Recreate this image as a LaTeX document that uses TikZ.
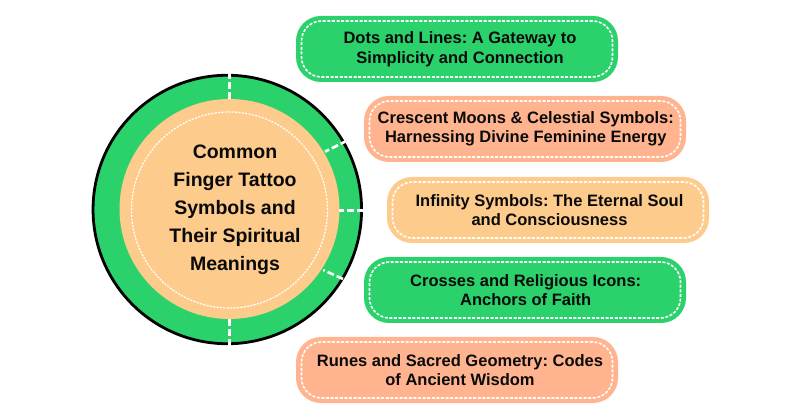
\documentclass[tikz,border=0pt]{standalone}
\usepackage{fontspec}
\setmainfont{Liberation Sans}[BoldFont={Liberation Sans Bold}]
\frenchspacing
\definecolor{gr}{HTML}{2BD26B}
\definecolor{og}{HTML}{FDCB8B}
\definecolor{sm}{HTML}{FFB48F}
\definecolor{ink}{HTML}{0A0A0A}
\newcommand{\pill}[6]{%
  \node[pillbody,fill=#5] (#1) at (#2,#3) {};
  \node[pillstitch] (#1s) at (#1.center) {};
  \node[pilltext] (#1t) at (#4,#3) {#6};
}
\tikzset{
  pillbody/.style={minimum width=322pt,minimum height=66pt,rounded corners=25pt,inner sep=0pt,outer sep=0pt},
  pillstitch/.style={draw=white,line width=1.6pt,dash pattern=on 3pt off 1.6pt,minimum width=311pt,minimum height=56pt,rounded corners=20pt,inner sep=0pt},
  pilltext/.style={text=ink,font=\fontsize{16.5}{19.5}\selectfont\bfseries,align=center,inner sep=0pt},
  tick/.style={draw=white,line width=2.6pt,dash pattern=on 7pt off 3pt},
}
\begin{document}
\begin{tikzpicture}[x=1pt,y=-1pt]
\useasboundingbox[fill=white] (0,0) rectangle (800,419);
\node[circle,draw=black,line width=2.8pt,fill=gr,minimum size=268.5pt,inner sep=0pt] (outer) at (227.3,209.5) {};
\node[circle,fill=og,minimum size=220pt,inner sep=0pt,outer sep=0pt] (inner) at (229.5,209) {};
\node[circle,draw=white,line width=1.2pt,dash pattern=on 2.2pt off 1.2pt,minimum size=196pt,inner sep=0pt] (stitch) at (229.5,210) {};
\node[text=ink,font=\fontsize{19.5}{28}\selectfont\bfseries,align=center,inner sep=0pt] (title) at (235,209.5) {Common\\Finger Tattoo\\Symbols and\\Their Spiritual\\Meanings};
\coordinate (t1a) at (229.5,72); \coordinate (t1b) at (229.5,99);
\coordinate (t2a) at (347,140.7); \coordinate (t2b) at (325,151.7);
\coordinate (t3a) at (364,210.7); \coordinate (t3b) at (339,210.7);
\coordinate (t4a) at (343,279); \coordinate (t4b) at (323.3,270);
\coordinate (t5a) at (229.5,319); \coordinate (t5b) at (229.5,347);
\draw[tick] (t1a) -- (t1b);
\draw[tick] (t2a) -- (t2b);
\draw[tick] (t3a) -- (t3b);
\draw[tick] (t4a) -- (t4b);
\draw[tick] (t5a) -- (t5b);
\pill{b1}{457}{49}{460}{gr}{Dots and Lines: A Gateway to\\Simplicity and Connection}
\pill{b2}{525}{129}{525.8}{sm}{Crescent Moons \& Celestial Symbols:\\Harnessing Divine Feminine Energy}
\pill{b3}{548}{210}{549.5}{og}{Infinity Symbols: The Eternal Soul\\and Consciousness}
\pill{b4}{525}{290}{525.7}{gr}{Crosses and Religious Icons:\\Anchors of Faith}
\pill{b5}{457}{370}{460}{sm}{Runes and Sacred Geometry: Codes\\of Ancient Wisdom}
\end{tikzpicture}
\end{document}
